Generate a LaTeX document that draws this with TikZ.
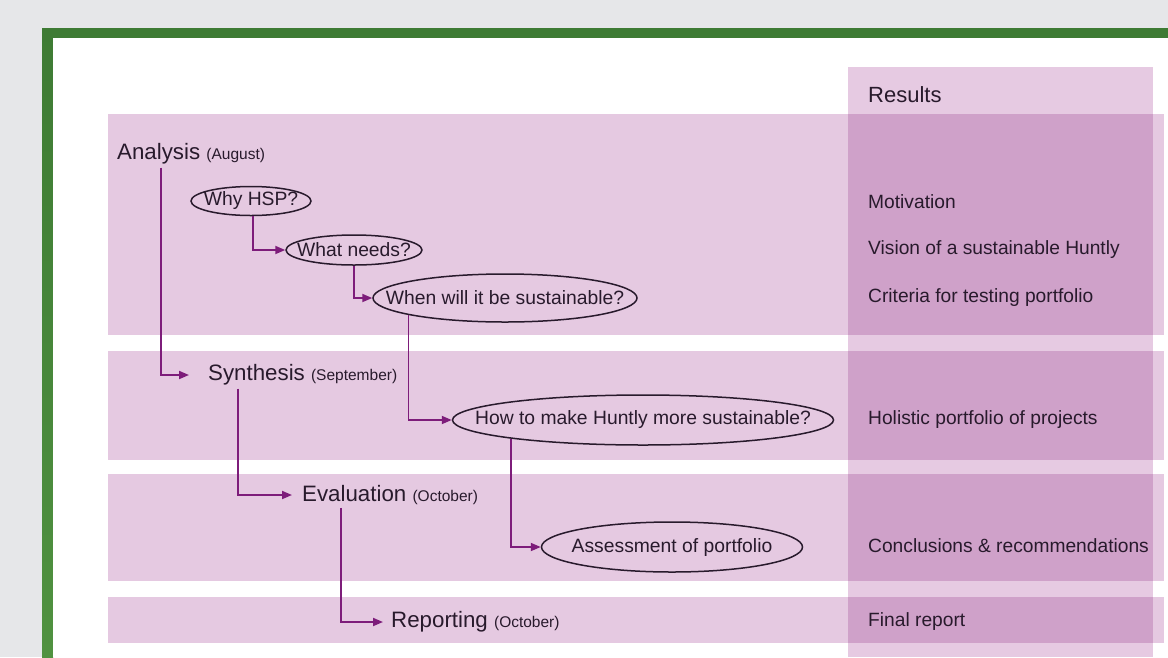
\documentclass[tikz,border=0pt]{standalone}
\usepackage{fontspec}
\setmainfont{Liberation Sans}
\usetikzlibrary{arrows.meta,shapes.geometric}
\definecolor{bggrey}{RGB}{230,231,233}
\definecolor{frgreen}{RGB}{62,123,52}
\definecolor{frgreenb}{RGB}{80,146,64}
\definecolor{bandpink}{RGB}{229,201,225}
\definecolor{colpink}{RGB}{230,202,226}
\definecolor{overpink}{RGB}{207,161,201}
\definecolor{linepurple}{RGB}{125,28,122}
\definecolor{inkdark}{RGB}{40,26,44}
\tikzset{
  band/.style={fill=bandpink, draw=none},
  overlap/.style={fill=overpink, draw=none},
  phase/.style={anchor=west, inner sep=0pt, text=inkdark, font=\fontsize{22.3}{26}\selectfont},
  result/.style={anchor=west, inner sep=0pt, text=inkdark, font=\fontsize{19.2}{22}\selectfont},
  ell/.style={ellipse, draw=inkdark, line width=1.5pt, inner sep=0pt,
    label={[text=inkdark, font=\fontsize{19.3}{22}\selectfont]center:#1}},
  conn/.style={draw=linepurple, line width=1.8pt,
    -{Triangle[length=10pt,width=8pt]}},
}
\newcommand{\mon}[1]{{\fontsize{15.5}{18}\selectfont #1}}
\begin{document}
\begin{tikzpicture}[x=1pt,y=-1pt]
\useasboundingbox (0,0) rectangle (1168,657);
% background and frame
\fill[bggrey] (0,0) rectangle (1168,657);
\fill[frgreen] (42,28) rectangle (1168,38);
\shade[top color=frgreen, bottom color=frgreenb] (42,28) rectangle (53,657);
\fill[white] (53,38) rectangle (1168,657);
% results column
\fill[colpink] (848,67) rectangle (1153,657);
% bands
\fill[band] (108,114) rectangle (1164,335);
\fill[band] (108,351) rectangle (1164,460);
\fill[band] (108,474) rectangle (1164,581);
\fill[band] (108,597) rectangle (1164,643);
% overlaps
\fill[overlap] (848,114) rectangle (1153,335);
\fill[overlap] (848,351) rectangle (1153,460);
\fill[overlap] (848,474) rectangle (1153,581);
\fill[overlap] (848,597) rectangle (1153,643);
% phase labels
\node[phase] (analysis) at (117,154) {Analysis \mon{(August)}};
\node[phase] (synth) at (208,375) {Synthesis \mon{(September)}};
\node[phase] (eval) at (302,495) {Evaluation \mon{(October)}};
\node[phase] (report) at (391,622) {Reporting \mon{(October)}};
% questions
\node[ell={Why HSP?}, minimum width=120pt, minimum height=29pt] (why) at (251,201) {};
\node[ell={What needs?}, minimum width=136pt, minimum height=30pt] (what) at (354,250) {};
\node[ell={When will it be sustainable?}, minimum width=264pt, minimum height=48pt] (when) at (505,298) {};
\node[ell={How to make Huntly more sustainable?}, minimum width=381pt, minimum height=50pt] (how) at (643,420) {};
\node[ell={Assessment of portfolio}, minimum width=261pt, minimum height=50pt] (assess) at (672,547) {};
% results
\node[anchor=west, inner sep=0pt, text=inkdark, font=\fontsize{22}{25}\selectfont] (results) at (868,95) {Results};
\node[result] (r1) at (868,202) {Motivation};
\node[result] (r2) at (868,250) {Vision of a sustainable Huntly};
\node[result] (r3) at (868,298) {Criteria for testing portfolio};
\node[result] (r4) at (868,420) {Holistic portfolio of projects};
\node[result] (r5) at (868,546) {Conclusions \& recommendations};
\node[result] (r6) at (868,622) {Final report};
% connectors
\draw[conn] ([xshift=44pt,yshift=-3pt]analysis.south west) |- ([xshift=-19pt]synth.west);
\draw[conn] ([xshift=30pt,yshift=-3pt]synth.south west) |- ([xshift=-10pt]eval.west);
\draw[conn] ([xshift=39pt,yshift=-3pt]eval.south west) |- ([xshift=-8pt]report.west);
\draw[conn] ([xshift=2pt]why.south) |- (what.west);
\draw[conn] (what.south) |- (when.west);
\draw[conn] (when.190) |- (how.west);
\draw[conn] (how.188) |- (assess.west);
\end{tikzpicture}
\end{document}
